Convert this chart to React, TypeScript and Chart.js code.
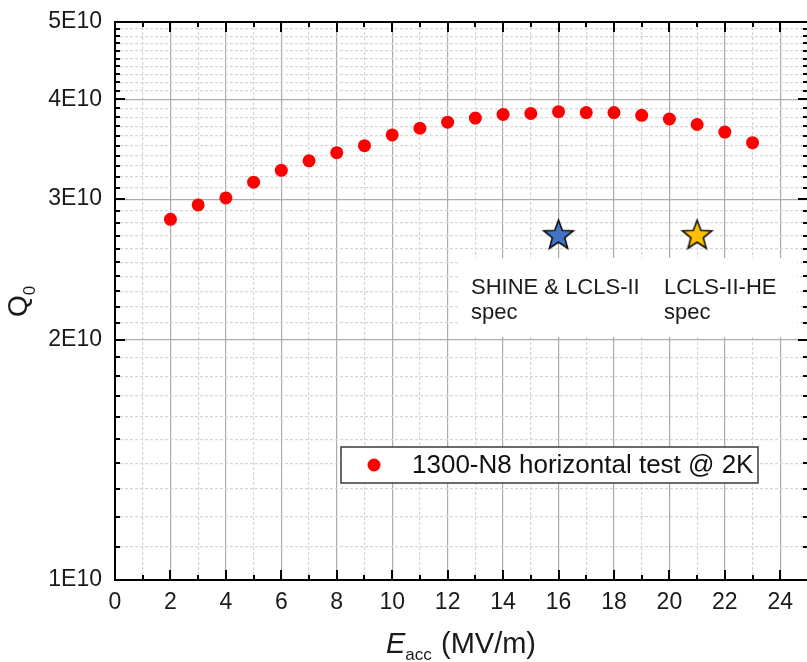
import React, { useEffect, useRef } from "react";
import { Chart, registerables } from "chart.js";

Chart.register(...registerables);

// ---- data ----
const eacc = [2, 3, 4, 5, 6, 7, 8, 9, 10, 11, 12, 13, 14, 15, 16, 17, 18, 19, 20, 21, 22, 23];
const q0 = [
  2.83e10, 2.95e10, 3.01e10, 3.15e10, 3.26e10, 3.35e10, 3.43e10, 3.5e10, 3.61e10, 3.68e10, 3.745e10,
  3.79e10, 3.83e10, 3.84e10, 3.86e10, 3.85e10, 3.85e10, 3.82e10, 3.78e10, 3.72e10, 3.64e10, 3.53e10,
];
const seriesLabel = "1300-N8 horizontal test @ 2K";

const specNames = ["SHINE & LCLS-II", "LCLS-II-HE"];
const specX = [16, 21];
const specQ = [2.7e10, 2.7e10];
const specColors = ["#4472c4", "#ffc000"];

const xTickValues = [0, 2, 4, 6, 8, 10, 12, 14, 16, 18, 20, 22, 24];
const xTickLabels = ["0", "2", "4", "6", "8", "10", "12", "14", "16", "18", "20", "22", "24"];
const yMajorTicks = [1e10, 2e10, 3e10, 4e10, 5e10];
const yTickLabels = ["1E10", "2E10", "3E10", "4E10", "5E10"];

const X_MIN = 0;
const X_MAX = 25;
const Y_MIN = 1e10;
const Y_MAX = 5e10;

const FONT = "'Liberation Sans', Arial, Helvetica, sans-serif";
const TEXT = "#1a1a1a";
const MAJOR_GRID = "#acacac";
const MINOR_GRID = "#d6d6d6";

// minor y ticks every 1E9
const yAllTicks: number[] = [];
for (let k = 10; k <= 50; k++) yAllTicks.push(k * 1e9);

function makeStar(fill: string, R: number): HTMLCanvasElement {
  const size = Math.ceil(2 * R + 6);
  const c = document.createElement("canvas");
  c.width = size;
  c.height = size;
  const ctx = c.getContext("2d")!;
  const cx = size / 2;
  const cy = size / 2;
  const r = R * 0.42;
  ctx.beginPath();
  for (let i = 0; i < 10; i++) {
    const ang = -Math.PI / 2 + (i * Math.PI) / 5;
    const rad = i % 2 === 0 ? R : r;
    const px = cx + rad * Math.cos(ang);
    const py = cy + rad * Math.sin(ang);
    if (i === 0) ctx.moveTo(px, py);
    else ctx.lineTo(px, py);
  }
  ctx.closePath();
  ctx.fillStyle = fill;
  ctx.fill();
  ctx.lineWidth = 1.6;
  ctx.lineJoin = "miter";
  ctx.strokeStyle = "#111";
  ctx.stroke();
  return c;
}

const decorPlugin = {
  id: "decor",
  beforeDatasetsDraw(chart: any) {
    const ctx = chart.ctx as CanvasRenderingContext2D;
    // white box behind spec annotations
    ctx.save();
    ctx.fillStyle = "#ffffff";
    ctx.fillRect(458, 258, 339, 79);
    ctx.fillStyle = TEXT;
    ctx.font = `22px ${FONT}`;
    ctx.textBaseline = "alphabetic";
    ctx.textAlign = "left";
    ctx.fillText(specNames[0], 471, 294);
    ctx.fillText("spec", 471, 319);
    ctx.fillText(specNames[1], 664, 294);
    ctx.fillText("spec", 664, 319);
    ctx.restore();
  },
  afterDatasetsDraw(chart: any) {
    const ctx = chart.ctx as CanvasRenderingContext2D;
    const { left, right, top, bottom } = chart.chartArea;
    const xs = chart.scales.x;
    const ys = chart.scales.y;
    ctx.save();
    // inner ticks
    ctx.strokeStyle = "#000";
    ctx.lineWidth = 2;
    ctx.beginPath();
    for (const v of yAllTicks) {
      if (v <= Y_MIN || v >= Y_MAX) continue;
      const p = Math.round(ys.getPixelForValue(v));
      const len = yMajorTicks.includes(v) ? 10 : 5;
      ctx.moveTo(left, p);
      ctx.lineTo(left + len, p);
      ctx.moveTo(right, p);
      ctx.lineTo(right - len, p);
    }
    for (let v = X_MIN + 1; v < X_MAX; v++) {
      const p = Math.round(xs.getPixelForValue(v));
      const len = v % 2 === 0 ? 10 : 5;
      ctx.moveTo(p, bottom);
      ctx.lineTo(p, bottom - len);
      ctx.moveTo(p, top);
      ctx.lineTo(p, top + len);
    }
    ctx.stroke();
    // frame
    ctx.lineWidth = 2;
    ctx.strokeRect(left, top, right - left, bottom - top);

    // legend
    ctx.fillStyle = "#ffffff";
    ctx.fillRect(341, 447, 417, 36);
    ctx.strokeStyle = "#3a3a3a";
    ctx.lineWidth = 1.5;
    ctx.strokeRect(341, 447, 417, 36);
    ctx.fillStyle = chart.data.datasets[0].pointBackgroundColor;
    ctx.beginPath();
    ctx.arc(374, 465, 6.5, 0, Math.PI * 2);
    ctx.fill();
    ctx.fillStyle = "#111";
    ctx.font = `26px ${FONT}`;
    ctx.textBaseline = "alphabetic";
    ctx.textAlign = "left";
    ctx.fillText(chart.data.datasets[0].label, 412, 473);

    // x title: E_acc (MV/m)
    ctx.fillStyle = TEXT;
    ctx.font = `italic 29px ${FONT}`;
    ctx.fillText("E", 386, 653);
    const wE = ctx.measureText("E").width;
    ctx.font = `17px ${FONT}`;
    ctx.fillText("acc", 386 + wE, 660);
    ctx.font = `29px ${FONT}`;
    ctx.fillText("(MV/m)", 441, 653);

    // y title: Q0 rotated
    ctx.translate(27, 317);
    ctx.rotate(-Math.PI / 2);
    ctx.font = `28px ${FONT}`;
    ctx.fillText("Q", 0, 0);
    const wQ = ctx.measureText("Q").width;
    ctx.font = `17px ${FONT}`;
    ctx.fillText("0", wQ, 8);
    ctx.restore();
  },
};

export default function App() {
  const ref = useRef<HTMLCanvasElement | null>(null);

  useEffect(() => {
    if (!ref.current) return;
    Chart.defaults.font.family = FONT;
    const starImgs = specColors.map((c) => makeStar(c, 15.5));

    const gridColorX = (ctx: any) => {
      const v = ctx.tick ? ctx.tick.value : null;
      if (v === null || v <= X_MIN || v >= X_MAX) return "rgba(0,0,0,0)";
      return v % 2 === 0 ? MAJOR_GRID : MINOR_GRID;
    };
    const dashX = (ctx: any) => {
      const v = ctx.tick ? ctx.tick.value : null;
      if (v === null) return [];
      return v % 2 === 0 ? [] : [3, 2];
    };
    const gridColorY = (ctx: any) => {
      const v = ctx.tick ? ctx.tick.value : null;
      if (v === null || v <= Y_MIN || v >= Y_MAX) return "rgba(0,0,0,0)";
      return yMajorTicks.includes(v) ? MAJOR_GRID : MINOR_GRID;
    };
    const dashY = (ctx: any) => {
      const v = ctx.tick ? ctx.tick.value : null;
      if (v === null) return [];
      return yMajorTicks.includes(v) ? [] : [3, 2];
    };

    const chart = new Chart(ref.current, {
      type: "scatter",
      data: {
        datasets: [
          {
            label: seriesLabel,
            data: eacc.map((x, i) => ({ x, y: q0[i] })),
            pointBackgroundColor: "#ff0000",
            pointBorderWidth: 0,
            pointBorderColor: "#ff0000",
            pointRadius: 6.5,
            showLine: false,
          },
          ...specNames.map((name, i) => ({
            label: name,
            data: [{ x: specX[i], y: specQ[i] }],
            pointStyle: starImgs[i] as any,
            pointRadius: 15.5,
            showLine: false,
          })),
        ],
      },
      options: {
        responsive: false,
        animation: false,
        devicePixelRatio: 1,
        layout: { autoPadding: false, padding: { top: 22, right: 2, left: 0, bottom: 0 } },
        plugins: {
          legend: { display: false },
          tooltip: { enabled: false },
          title: { display: false },
        },
        scales: {
          x: {
            type: "linear",
            min: X_MIN,
            max: X_MAX,
            ticks: {
              stepSize: 1,
              autoSkip: false,
              maxRotation: 0,
              padding: 9,
              color: TEXT,
              font: { family: FONT, size: 23 },
              callback: (v: any) => {
                const i = xTickValues.indexOf(Number(v));
                return i >= 0 ? xTickLabels[i] : "";
              },
            },
            grid: { drawTicks: false, color: gridColorX, lineWidth: 1.2 },
            border: { display: false, dash: dashX } as any,
            afterFit: (s: any) => {
              s.height = 82;
              s.paddingLeft = 0;
              s.paddingRight = 0;
            },
          },
          y: {
            type: "logarithmic",
            min: Y_MIN,
            max: Y_MAX,
            afterBuildTicks: (s: any) => {
              s.ticks = yAllTicks.map((v) => ({ value: v }));
            },
            ticks: {
              autoSkip: false,
              padding: 13,
              color: TEXT,
              font: { family: FONT, size: 23 },
              callback: (v: any) => {
                const i = yMajorTicks.indexOf(Number(v));
                return i >= 0 ? yTickLabels[i] : "";
              },
            },
            grid: { drawTicks: false, color: gridColorY, lineWidth: 1.2 },
            border: { display: false, dash: dashY } as any,
            afterFit: (s: any) => {
              s.width = 115;
              s.paddingTop = 0;
              s.paddingBottom = 0;
            },
          },
        },
      } as any,
      plugins: [decorPlugin],
    });
    return () => chart.destroy();
  }, []);

  return (
    <div
      style={{
        position: "fixed",
        left: 0,
        top: 0,
        width: 807,
        height: 662,
        overflow: "hidden",
        background: "#ffffff",
      }}
    >
      <canvas ref={ref} width={810} height={662} style={{ display: "block", width: 810, height: 662 }} />
    </div>
  );
}
